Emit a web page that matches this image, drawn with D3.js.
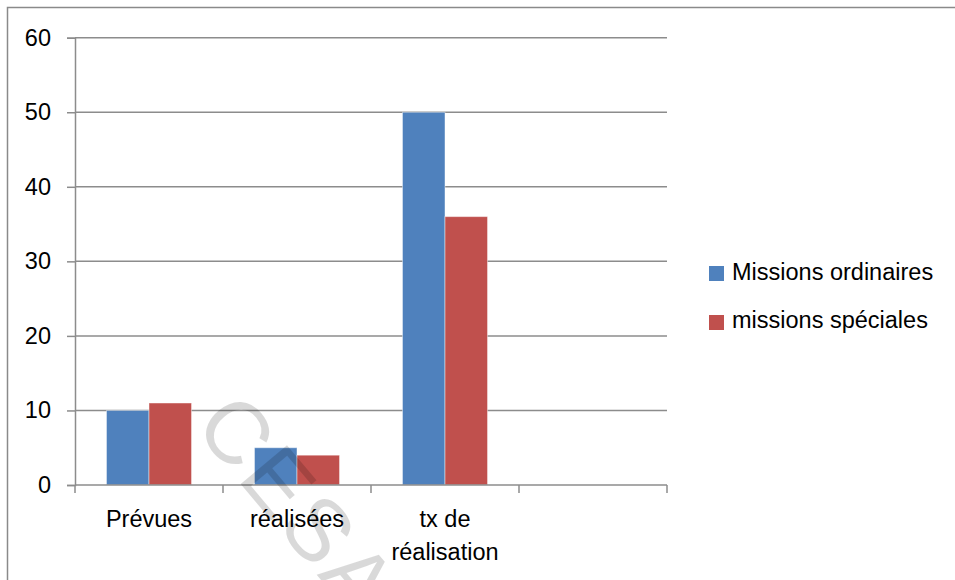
<!DOCTYPE html>
<html>
<head>
<meta charset="utf-8">
<script src="https://cdn.jsdelivr.net/npm/d3@7/dist/d3.min.js"></script>
<style>
html,body{margin:0;padding:0;background:#fff;}
svg{display:block;}
text{font-family:"Liberation Sans",Arial,sans-serif;fill:#000;}
</style>
</head>
<body>
<svg id="chart" width="955" height="580"></svg>
<script>
const categories = ["Prévues", "réalisées", "tx de réalisation", ""];
const seriesNames = ["Missions ordinaires", "missions spéciales"];
const ordinaires = [10, 5, 50, null];
const speciales = [11, 4, 36, null];
const yTicks = [0, 10, 20, 30, 40, 50, 60];
const colors = ["#4F81BD", "#C0504D"];
const watermark = "CESA";

const svg = d3.select("#chart");
const fs = 23.5;

// outer border (cropped by the picture on right/bottom)
svg.append("rect").attr("x", 7.5).attr("y", 7.5).attr("width", 1200).attr("height", 1200)
  .attr("fill", "none").attr("stroke", "#8a8a8a").attr("stroke-width", 1.5);

const x0 = d3.scaleBand().domain(d3.range(categories.length)).range([75, 667]).padding(0);
const x1 = d3.scaleBand().domain(seriesNames).range([0, x0.bandwidth()]).paddingInner(0).paddingOuter(0.74);
const y = d3.scaleLinear().domain([0, 60]).range([485, 37.7]);

const gridColor = "#8c8c8c";

// gridlines with left ticks
const yAxis = d3.axisLeft(y).tickValues(yTicks).tickSize(8).tickPadding(16).tickFormat(d3.format("d"));
const gy = svg.append("g").attr("transform", "translate(75,0)").call(yAxis);
gy.select(".domain").attr("stroke", gridColor).attr("stroke-width", 1.5);
gy.selectAll(".tick line").attr("stroke", gridColor).attr("stroke-width", 1.5);
gy.selectAll(".tick text").style("font-size", fs + "px").attr("font-family", "Liberation Sans, Arial, sans-serif").attr("fill", "#000");
svg.append("g").selectAll("line").data(yTicks.filter(d => d > 0)).join("line")
  .attr("x1", 75).attr("x2", 667).attr("y1", d => y(d)).attr("y2", d => y(d))
  .attr("stroke", gridColor).attr("stroke-width", 1.5);

// bars
const data = categories.map((c, i) => ({ i, vals: [ordinaires[i], speciales[i]] }));
const groups = svg.append("g").selectAll("g").data(data).join("g")
  .attr("transform", d => `translate(${x0(d.i)},0)`);
groups.selectAll("rect").data(d => d.vals.map((v, k) => ({ v, k })).filter(e => e.v != null)).join("rect")
  .attr("x", e => x1(seriesNames[e.k]))
  .attr("width", x1.bandwidth())
  .attr("y", e => y(e.v))
  .attr("height", e => y(0) - y(e.v))
  .attr("fill", e => colors[e.k])
  .attr("stroke", "rgba(255,255,255,0.45)").attr("stroke-width", 1);

// x axis
const boundaries = d3.range(categories.length + 1).map(i => 75 + i * x0.step());
svg.append("line").attr("x1", 75).attr("x2", 667).attr("y1", y(0)).attr("y2", y(0))
  .attr("stroke", gridColor).attr("stroke-width", 1.5);
svg.append("g").selectAll("line").data(boundaries).join("line")
  .attr("x1", d => d).attr("x2", d => d).attr("y1", y(0)).attr("y2", y(0) + 8)
  .attr("stroke", gridColor).attr("stroke-width", 1.5);

const labelLines = [["Prévues"], ["réalisées"], ["tx de", "réalisation"], [""]];
const xl = svg.append("g");
labelLines.forEach((lines, i) => {
  lines.forEach((t, j) => {
    xl.append("text").attr("x", x0(i) + x0.bandwidth() / 2).attr("y", 527 + j * 33)
      .attr("text-anchor", "middle").style("font-size", fs + "px").text(t);
  });
});

// legend
const lg = svg.append("g");
seriesNames.forEach((s, k) => {
  lg.append("rect").attr("x", 709).attr("y", 266 + k * 49).attr("width", 15).attr("height", 15).attr("fill", colors[k]);
  lg.append("text").attr("x", 732).attr("y", 280 + k * 48).style("font-size", fs + "px").text(s);
});

// watermark
svg.append("text").attr("transform", "translate(298,505) rotate(50)")
  .attr("text-anchor", "middle").attr("dominant-baseline", "central")
  .style("font-size", "88px").style("font-family", "Liberation Sans, Arial, sans-serif")
  .style("fill", "#000").style("fill-opacity", 0.15).style("letter-spacing", "4px")
  .text(watermark);
</script>
</body>
</html>
